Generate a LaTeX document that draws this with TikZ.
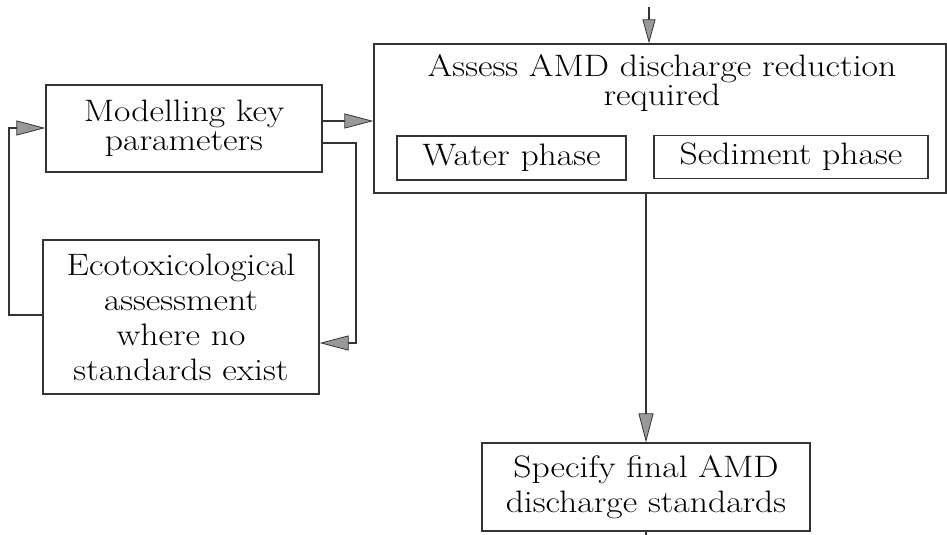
\documentclass[tikz,border=0pt]{standalone}
\usepackage{fontspec}
\setmainfont{Latin Modern Roman}[FakeStretch=1.15]
\usetikzlibrary{arrows.meta}
\begin{document}
\begin{tikzpicture}[x=1pt,y=-1pt,
  box/.style={draw=black!80, line width=1.3pt, inner sep=0pt, align=center,
    font=\fontsize{31}{29}\selectfont, text=black},
  tallbox/.style={box, font=\fontsize{31}{35}\selectfont},
  link/.style={draw=black!80, line width=1.3pt},
  tip/.style={-{Triangle[length=29pt,width=15pt,fill=black!40,line width=0.8pt]}},
  smalltip/.style={-{Triangle[length=24pt,width=13pt,fill=black!40,line width=0.8pt]}}]
\useasboundingbox (0,0) rectangle (947,535);

% process boxes
\node[box, minimum width=276pt, minimum height=87pt] (model) at (184,128.5)
  {Modelling key\\parameters};
\node[tallbox, minimum width=276pt, minimum height=154pt] (eco) at (181,317)
  {Ecotoxicological\\assessment\\where no\\standards exist};
\node[box, minimum width=572pt, minimum height=149pt] (assess) at (660,118.5) {};
\node[box, draw=none, anchor=center] (title) at (662,83)
  {Assess AMD discharge reduction\\required};
\node[box, minimum width=229pt, minimum height=44pt] (water) at (511.5,158) {Water phase};
\node[box, minimum width=274pt, minimum height=43pt] (sediment) at (791,157) {Sediment phase};
\node[tallbox, minimum width=328pt, minimum height=88pt] (spec) at (646,487)
  {Specify final AMD\\discharge standards};

% free ends of the incoming and outgoing lines
\coordinate (in) at (649,7);
\coordinate (out) at (646,535);

% connectors
\draw[link, smalltip] (in) -- (in |- assess.north);
\draw[link, tip] (spec.north |- assess.south) -- (spec.north);
\draw[link] (spec.south) -- (out);
\draw[link, tip] (model.east |- 0,121) -- (assess.west |- 0,121);
\draw[link, tip] (model.east |- 0,143) -- (356,143) -- (356,343) -- (eco.east |- 0,343);
\draw[link, tip] (eco.west |- 0,315) -- (9,315) -- (9,128) -- (model.west |- 0,128);
\end{tikzpicture}
\end{document}
